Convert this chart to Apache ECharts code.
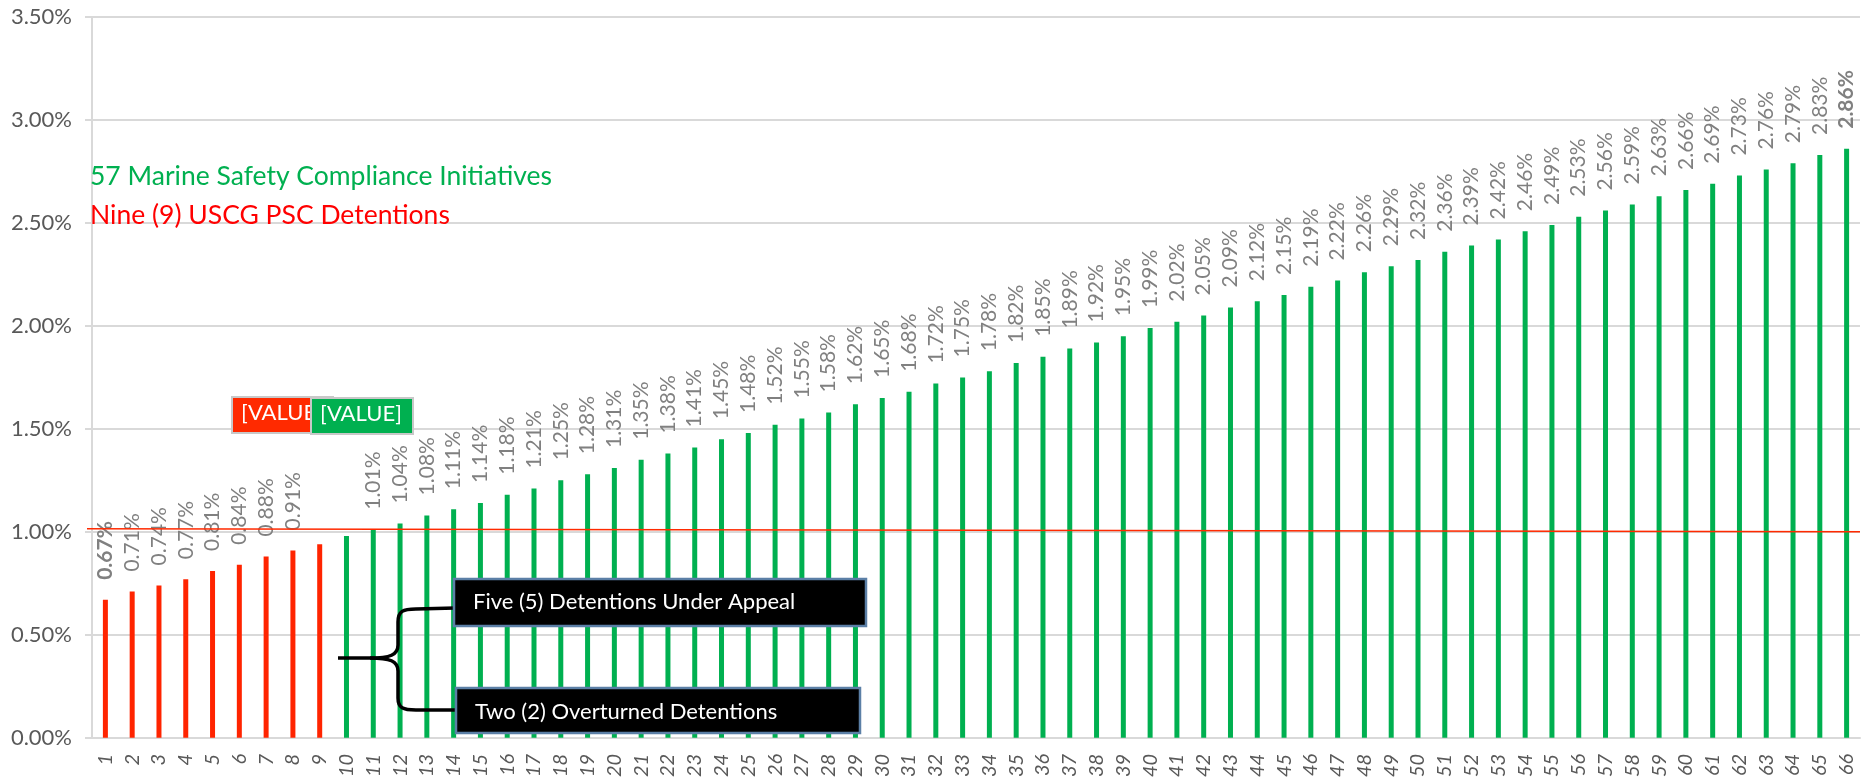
<!DOCTYPE html>
<html>
<head>
<meta charset="utf-8">
<script src="https://cdn.jsdelivr.net/npm/echarts@6/dist/echarts.min.js"></script>
<style>
    html, body { margin: 0; padding: 0; background: #fff; }
    #chart { width: 1868px; height: 780px; }
</style>
</head>
<body>
<div id="chart"></div>
<script>

// =====================================================
// DATA
// =====================================================

const categories = ['1','2','3','4','5','6','7','8','9','10','11','12','13','14','15','16','17','18','19','20',
    '21','22','23','24','25','26','27','28','29','30','31','32','33','34','35','36','37','38','39','40',
    '41','42','43','44','45','46','47','48','49','50','51','52','53','54','55','56','57','58','59','60',
    '61','62','63','64','65','66'];

// USCG PSC detentions (bars 1-9), percent
const detentionRates = [0.67, 0.71, 0.74, 0.77, 0.81, 0.84, 0.88, 0.91, 0.94];

// marine safety compliance initiatives (bars 10-66), percent
const initiativeRates = [0.98, 1.01, 1.04, 1.08, 1.11, 1.14, 1.18, 1.21, 1.25, 1.28,
    1.31, 1.35, 1.38, 1.41, 1.45, 1.48, 1.52, 1.55, 1.58, 1.62,
    1.65, 1.68, 1.72, 1.75, 1.78, 1.82, 1.85, 1.89, 1.92, 1.95,
    1.99, 2.02, 2.05, 2.09, 2.12, 2.15, 2.19, 2.22, 2.26, 2.29,
    2.32, 2.36, 2.39, 2.42, 2.46, 2.49, 2.53, 2.56, 2.59, 2.63,
    2.66, 2.69, 2.73, 2.76, 2.79, 2.83, 2.86];

const yTicks = [0, 0.5, 1.0, 1.5, 2.0, 2.5, 3.0, 3.5];

// bars whose labels are replaced by the [VALUE] boxes
const hiddenLabels = [8, 9];
const boldLabels = [0, 65];

// =====================================================
// SERIES DATA
// =====================================================

const red_data = categories.map((c, i) => i < detentionRates.length ? detentionRates[i] : '-');
const green_data = categories.map((c, i) => i < detentionRates.length ? '-' : initiativeRates[i - detentionRates.length]);

const FONT = 'Lato, "Open Sans", sans-serif';
const RED = '#FF2400';
const GREEN = '#00B050';
const GRID_COLOR = '#D9D9D9';

function label_formatter(p) {
    if (hiddenLabels.indexOf(p.dataIndex) >= 0) return '';
    const txt = p.value.toFixed(2) + '%';
    if (boldLabels.indexOf(p.dataIndex) >= 0) return '{b|' + txt + '}';
    return txt;
}

const bar_label = {
    show: true,
    position: 'top',
    rotate: 90,
    align: 'left',
    verticalAlign: 'middle',
    distance: 20,
    fontFamily: FONT,
    fontSize: 21,
    color: '#808080',
    formatter: label_formatter,
    rich: {
        b: { fontFamily: FONT, fontSize: 21, color: '#808080', fontWeight: 'bold' }
    }
};

// =====================================================
// CHART
// =====================================================

const chart = echarts.init(document.getElementById('chart'), null, { renderer: 'canvas' });

chart.setOption({
    animation: false,
    backgroundColor: '#fff',
    grid: { left: 92, right: 8, top: 17, bottom: 40, containLabel: false },
    xAxis: {
        type: 'category',
        data: categories,
        axisLine: { show: true, lineStyle: { color: GRID_COLOR, width: 2 } },
        axisTick: { show: false },
        axisLabel: {
            rotate: 90,
            interval: 0,
            margin: 16,
            fontFamily: FONT,
            fontStyle: 'italic',
            fontSize: 20,
            color: '#595959'
        }
    },
    yAxis: {
        type: 'value',
        min: yTicks[0],
        max: yTicks[yTicks.length - 1],
        interval: 0.5,
        axisLine: { show: true, lineStyle: { color: GRID_COLOR, width: 2 } },
        axisTick: { show: true, length: 7, lineStyle: { color: GRID_COLOR, width: 2 } },
        splitLine: { show: true, lineStyle: { color: GRID_COLOR, width: 2 } },
        axisLabel: {
            margin: 20,
            fontFamily: FONT,
            fontSize: 22,
            color: '#595959',
            formatter: v => v.toFixed(2) + '%'
        }
    },
    series: [
        {
            name: 'Detentions',
            type: 'bar',
            data: red_data,
            barWidth: 5,
            barGap: '-100%',
            itemStyle: { color: RED },
            label: bar_label
        },
        {
            name: 'Initiatives',
            type: 'bar',
            data: green_data,
            barWidth: 5,
            barGap: '-100%',
            itemStyle: { color: GREEN },
            label: bar_label
        }
    ]
});

// =====================================================
// ANNOTATIONS
// =====================================================

const y_left = chart.convertToPixel({ yAxisIndex: 0 }, 1.015);
const y_right = chart.convertToPixel({ yAxisIndex: 0 }, 1.0);

const brace_style = { stroke: '#000', lineWidth: 3.5, fill: null };

chart.setOption({
    graphic: [
        // slightly tilted red reference line
        { type: 'line', z: 10, shape: { x1: 87, y1: y_left, x2: 1860, y2: y_right },
          style: { stroke: '#FF2A00', lineWidth: 1.5 } },

        // legend-like captions
        { type: 'text', left: 90, top: 163, z: 10,
          style: { text: '57 Marine Safety Compliance Initiatives', fill: GREEN, font: '26.5px ' + FONT } },
        { type: 'text', left: 90, top: 202, z: 10,
          style: { text: 'Nine (9) USCG PSC Detentions', fill: '#FF0000', font: '26.5px ' + FONT } },

        // broken [VALUE] data label boxes
        { type: 'rect', z: 10, shape: { x: 232, y: 397, width: 101, height: 36 },
          style: { fill: '#FF2A00', stroke: '#C8C8C8', lineWidth: 2 } },
        { type: 'text', z: 11, left: 241, top: 402,
          style: { text: '[VALUE]', fill: '#fff', font: '22px ' + FONT } },
        { type: 'rect', z: 12, shape: { x: 311, y: 398, width: 102, height: 36 },
          style: { fill: GREEN, stroke: '#C8C8C8', lineWidth: 2 } },
        { type: 'text', z: 13, left: 320, top: 403,
          style: { text: '[VALUE]', fill: '#fff', font: '22px ' + FONT } },

        // curly brace
        { type: 'line', z: 10, shape: { x1: 338, y1: 658, x2: 370, y2: 658 }, style: brace_style },
        { type: 'bezierCurve', z: 10, shape: { x1: 370, y1: 658, cpx1: 390, cpy1: 658, cpx2: 398, cpy2: 655, x2: 398, y2: 645 }, style: brace_style },
        { type: 'line', z: 10, shape: { x1: 398, y1: 645, x2: 398, y2: 622 }, style: brace_style },
        { type: 'bezierCurve', z: 10, shape: { x1: 398, y1: 622, cpx1: 398, cpy1: 611, cpx2: 403, cpy2: 609, x2: 416, y2: 609 }, style: brace_style },
        { type: 'line', z: 10, shape: { x1: 416, y1: 609, x2: 455, y2: 608 }, style: brace_style },
        { type: 'bezierCurve', z: 10, shape: { x1: 370, y1: 658, cpx1: 390, cpy1: 658, cpx2: 398, cpy2: 661, x2: 398, y2: 671 }, style: brace_style },
        { type: 'line', z: 10, shape: { x1: 398, y1: 671, x2: 398, y2: 698 }, style: brace_style },
        { type: 'bezierCurve', z: 10, shape: { x1: 398, y1: 698, cpx1: 398, cpy1: 708, cpx2: 403, cpy2: 710, x2: 416, y2: 710 }, style: brace_style },
        { type: 'line', z: 10, shape: { x1: 416, y1: 710, x2: 455, y2: 710 }, style: brace_style },

        // callout boxes
        { type: 'rect', z: 10, shape: { x: 454, y: 579, width: 412, height: 47 },
          style: { fill: '#000', stroke: '#5B7FA6', lineWidth: 2.5 } },
        { type: 'text', z: 11, left: 473, top: 591,
          style: { text: 'Five (5) Detentions Under Appeal', fill: '#fff', font: '22px ' + FONT } },
        { type: 'rect', z: 10, shape: { x: 456, y: 688, width: 404, height: 45 },
          style: { fill: '#000', stroke: '#5B7FA6', lineWidth: 2.5 } },
        { type: 'text', z: 11, left: 475, top: 701,
          style: { text: 'Two (2) Overturned Detentions', fill: '#fff', font: '22px ' + FONT } }
    ]
});

window.addEventListener('resize', function() {
    chart.resize();
});

</script>
</body>
</html>
